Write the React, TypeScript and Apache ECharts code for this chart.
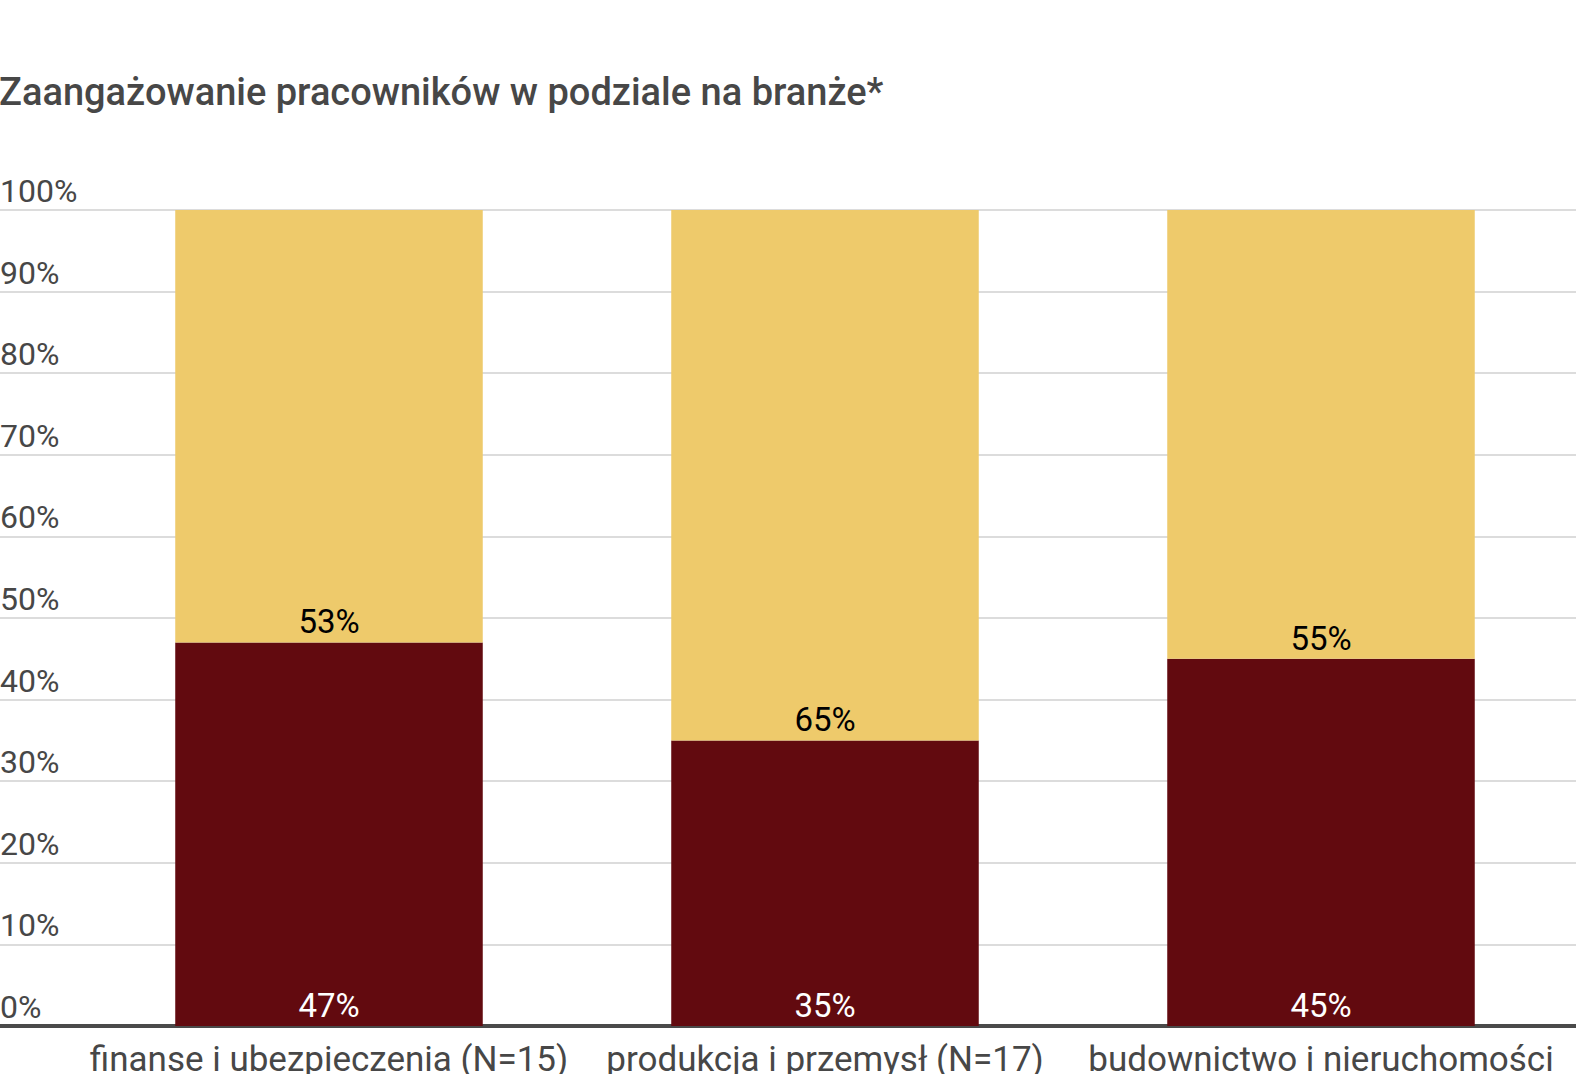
import React, { useEffect, useRef } from "react";
import * as echarts from "echarts";

const titleText = "Zaangażowanie pracowników w podziale na branże*";
const categories = [
  "finanse i ubezpieczenia (N=15)",
  "produkcja i przemysł (N=17)",
  "budownictwo i nieruchomości",
];
const engaged = [47, 35, 45];
const notEngaged = [53, 65, 55];
const yMin = 0;
const yMax = 100;
const yInterval = 10;

const FONT = "Roboto, 'Noto Sans', sans-serif";
const GREY = "#474747";

export default function App() {
  const ref = useRef<HTMLDivElement>(null);
  useEffect(() => {
    if (!ref.current) return;
    const chart = echarts.init(ref.current, undefined, { renderer: "svg" });
    chart.setOption({
      animation: false,
      backgroundColor: "#ffffff",
      textStyle: { fontFamily: FONT },
      title: {
        text: titleText,
        left: -6,
        top: 68,
        textStyle: { fontFamily: FONT, fontSize: 38, fontWeight: 500, color: GREY },
      },
      grid: [
        { left: 81, right: 7, top: 210, bottom: 48, containLabel: false, outerBoundsMode: "none" },
        { left: 0, right: 0, top: 210, bottom: 48, containLabel: false, outerBoundsMode: "none" },
      ],
      xAxis: [
        {
          type: "category",
          gridIndex: 0,
          data: categories,
          axisLine: { show: false },
          axisTick: { show: false },
          axisLabel: {
            fontFamily: FONT,
            fontSize: 35,
            color: GREY,
            margin: 16,
            interval: 0,
            hideOverlap: false,
          },
        },
        {
          type: "value",
          gridIndex: 1,
          min: 0,
          max: 1,
          offset: 4,
          axisLine: { show: true, lineStyle: { color: "#4a4a4a", width: 4 } },
          axisTick: { show: false },
          axisLabel: { show: false },
          splitLine: { show: false },
        },
      ],
      yAxis: [
        {
          type: "value",
          gridIndex: 0,
          min: yMin,
          max: yMax,
          interval: yInterval,
          axisLine: { show: false },
          axisTick: { show: false },
          axisLabel: { show: false },
          splitLine: { show: false },
        },
        {
          type: "value",
          gridIndex: 1,
          min: yMin,
          max: yMax,
          interval: yInterval,
          axisLine: { show: false },
          axisTick: { show: false },
          splitLine: { show: true, lineStyle: { color: "#dcdcdc", width: 2 } },
          axisLabel: {
            inside: true,
            margin: 0,
            align: "left",
            verticalAlign: "bottom",
            padding: [0, 0, 3, 0],
            fontFamily: FONT,
            fontSize: 32,
            color: GREY,
            formatter: "{value}%",
          },
        },
      ],
      series: [
        {
          name: "zaangażowani",
          type: "bar",
          stack: "total",
          xAxisIndex: 0,
          yAxisIndex: 0,
          data: engaged,
          barCategoryGap: "38%",
          itemStyle: { color: "#620a0f" },
          label: {
            show: true,
            position: "insideBottom",
            distance: 4,
            formatter: "{c}%",
            fontFamily: FONT,
            fontSize: 33,
            color: "#ffffff",
          },
        },
        {
          name: "niezaangażowani",
          type: "bar",
          stack: "total",
          xAxisIndex: 0,
          yAxisIndex: 0,
          data: notEngaged,
          barCategoryGap: "38%",
          itemStyle: { color: "#eeca6b" },
          label: {
            show: true,
            position: "insideBottom",
            distance: 4,
            formatter: "{c}%",
            fontFamily: FONT,
            fontSize: 33,
            color: "#000000",
          },
        },
      ],
    });
    return () => chart.dispose();
  }, []);
  return (
    <div
      ref={ref}
      style={{ position: "absolute", left: 0, top: 0, width: 1576, height: 1074 }}
    />
  );
}
